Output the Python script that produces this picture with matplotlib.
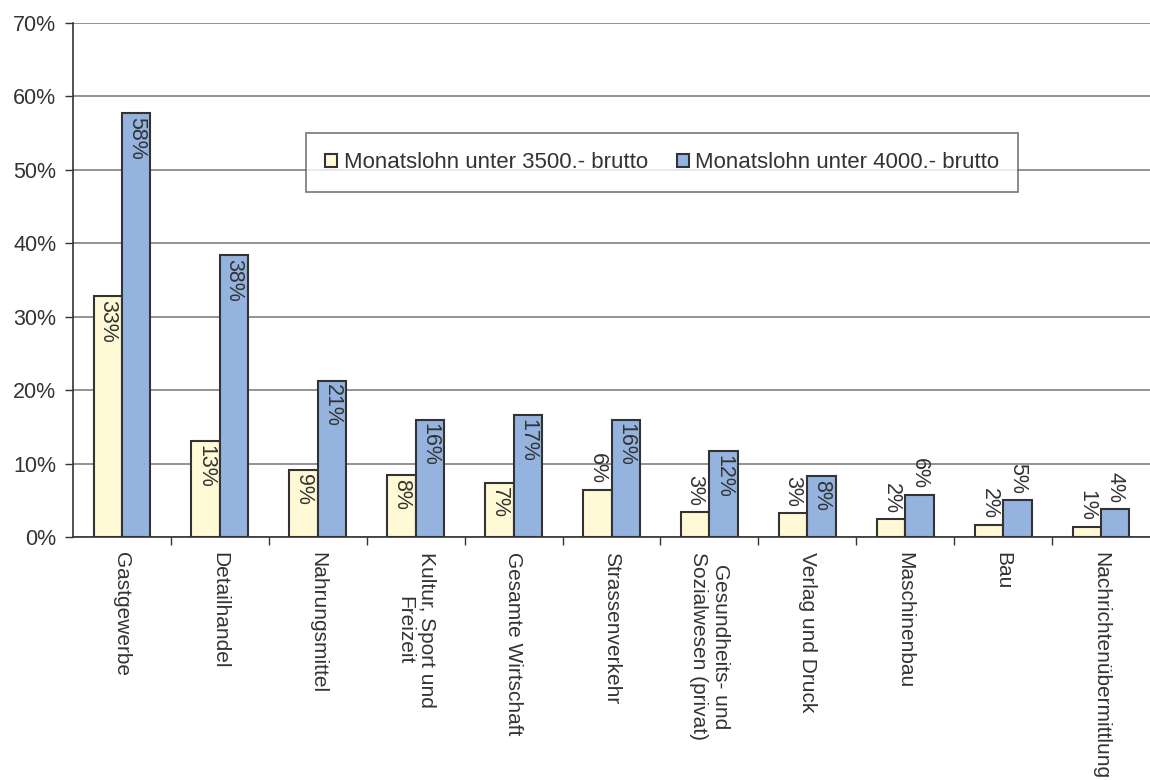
import numpy as np
import matplotlib.pyplot as plt
from matplotlib.ticker import FixedLocator, PercentFormatter

plt.rcParams["font.family"] = ["Liberation Sans", "DejaVu Sans"]
plt.rcParams["text.color"] = "#333333"

########## DATA ##########
categories = [
    "Gastgewerbe",
    "Detailhandel",
    "Nahrungsmittel",
    "Kultur, Sport und\nFreizeit",
    "Gesamte Wirtschaft",
    "Strassenverkehr",
    "Gesundheits- und\nSozialwesen (privat)",
    "Verlag und Druck",
    "Maschinenbau",
    "Bau",
    "Nachrichtenübermittlung",
]
under_3500 = [32.8, 13.1, 9.1, 8.4, 7.3, 6.4, 3.4, 3.3, 2.4, 1.6, 1.4]
under_4000 = [57.7, 38.4, 21.3, 16.0, 16.6, 16.0, 11.7, 8.3, 5.7, 5.1, 3.8]
series_names = ["Monatslohn unter 3500.- brutto", "Monatslohn unter 4000.- brutto"]
########## END DATA ##########

fig = plt.figure(figsize=(11.5, 7.8), dpi=100)
ax = fig.add_axes([0.0635, 0.3115, 0.9365, 0.659])

x = np.arange(len(categories))
w = 0.29
b1 = ax.bar(x - w / 2, under_3500, w, color="#FFF9D5", edgecolor="#333333",
            linewidth=1.5, label=series_names[0], zorder=3)
b2 = ax.bar(x + w / 2, under_4000, w, color="#94B4DF", edgecolor="#333333",
            linewidth=1.5, label=series_names[1], zorder=3)

# value labels, rotated, inside the bar top when it fits
for bars in (b1, b2):
    for rect in bars:
        v = rect.get_height()
        cx = rect.get_x() + rect.get_width() / 2
        if v >= 7:
            ax.text(cx, v - 0.5, f"{v:.0f}%", rotation=270, ha="center",
                    va="top", fontsize=15.5, color="#333333", zorder=4)
        else:
            ax.text(cx, v + 0.8, f"{v:.0f}%", rotation=270, ha="center",
                    va="bottom", fontsize=15.5, color="#333333", zorder=4)

ax.set_xlim(-0.5, len(categories) - 0.5)
ax.set_ylim(0, 70)
ax.set_yticks(np.arange(0, 71, 10))
ax.yaxis.set_major_formatter(PercentFormatter(decimals=0))
ax.yaxis.grid(True, color="#808080", linewidth=1.2, zorder=0)
ax.tick_params(axis="y", direction="out", length=6, width=1, color="#333333",
               labelsize=15.5, labelcolor="#333333", pad=6)

ax.set_xticks(x)
ax.set_xticklabels(categories, rotation=270, ha="center", va="top",
                   fontsize=15, color="#333333", rotation_mode="default")
ax.tick_params(axis="x", which="major", length=0, pad=11)
ax.xaxis.set_minor_locator(FixedLocator(np.arange(0.5, len(categories) - 0.5, 1)))
ax.tick_params(axis="x", which="minor", direction="out", length=6, width=1,
               color="#333333")

for s in ("top", "right"):
    ax.spines[s].set_visible(False)
ax.spines["left"].set_color("#333333")
ax.spines["bottom"].set_color("#333333")
ax.spines["left"].set_linewidth(1.2)
ax.spines["bottom"].set_linewidth(1.2)

leg = ax.legend(loc="center", bbox_to_anchor=(0.547, 0.728), ncol=2,
                fontsize=16, frameon=True, fancybox=False, handlelength=0.55,
                handleheight=0.55, handletextpad=0.3, columnspacing=1.3,
                borderpad=0.85)
leg.get_frame().set_edgecolor("#555555")
leg.get_frame().set_linewidth(1.2)
leg.set_zorder(5)

plt.savefig("out.png", dpi=100)
